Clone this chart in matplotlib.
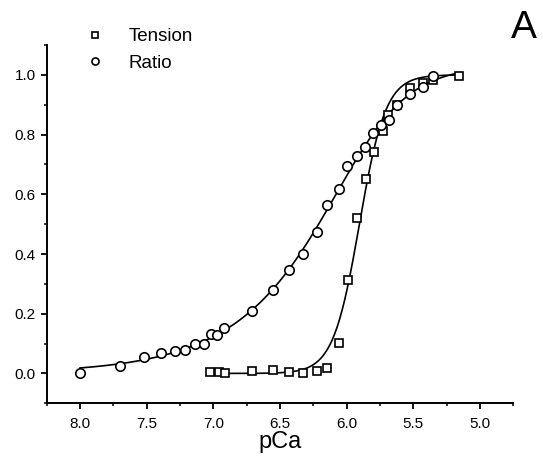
import numpy as np
import matplotlib
matplotlib.use("Agg")
import matplotlib.pyplot as plt
from matplotlib.ticker import MultipleLocator, FormatStrFormatter

plt.rcParams['font.family'] = ['Liberation Sans', 'DejaVu Sans']

# ---- data ----
ratio_pca = [8.00, 7.70, 7.52, 7.39, 7.29, 7.21, 7.14, 7.07, 7.02, 6.97, 6.92,
             6.71, 6.55, 6.43, 6.325, 6.22, 6.145, 6.06, 6.00, 5.925, 5.86,
             5.80, 5.74, 5.68, 5.625, 5.525, 5.43, 5.35]
ratio_val = [0.000, 0.024, 0.055, 0.070, 0.075, 0.080, 0.100, 0.100, 0.132, 0.130, 0.152,
             0.210, 0.278, 0.346, 0.400, 0.474, 0.564, 0.619, 0.694, 0.727, 0.758,
             0.805, 0.833, 0.848, 0.900, 0.935, 0.958, 0.995]

tension_pca = [7.025, 6.96, 6.91, 6.71, 6.55, 6.43, 6.325, 6.225, 6.145, 6.06,
               5.99, 5.925, 5.855, 5.795, 5.73, 5.69, 5.625, 5.525, 5.43, 5.35, 5.16]
tension_val = [0.005, 0.005, 0.002, 0.009, 0.011, 0.005, 0.000, 0.008, 0.017, 0.103,
               0.313, 0.522, 0.652, 0.742, 0.811, 0.865, 0.900, 0.955, 0.972, 0.983, 0.997]

legend_labels = ['Tension', 'Ratio']
x_ticks = [8.0, 7.5, 7.0, 6.5, 6.0, 5.5, 5.0]
y_ticks = [0.0, 0.2, 0.4, 0.6, 0.8, 1.0]


def model(x, p):
    a, n, p50, m = p
    return a * (1.0 + 10.0 ** (n * (x - p50))) ** (-m)


def fit_curve(x, y, p0, fixed=()):
    """Damped Gauss-Newton least-squares fit of a (generalised) Hill curve."""
    x = np.asarray(x, float)
    y = np.asarray(y, float)
    p = np.array(p0, float)
    free = [i for i in range(len(p)) if i not in fixed]
    lam = 1e-2
    cost = np.sum((model(x, p) - y) ** 2)
    for _ in range(400):
        r = model(x, p) - y
        J = np.zeros((len(x), len(free)))
        for k, i in enumerate(free):
            dp = np.zeros_like(p)
            dp[i] = 1e-6 * max(1.0, abs(p[i]))
            J[:, k] = (model(x, p + dp) - model(x, p - dp)) / (2 * dp[i])
        Hm = J.T @ J
        g = J.T @ r
        step = np.linalg.solve(Hm + lam * np.diag(np.diag(Hm) + 1e-9), -g)
        pn = p.copy()
        pn[free] += step
        pn[1] = max(pn[1], 0.1)
        pn[3] = min(max(pn[3], 0.05), 5.0)
        cn = np.sum((model(x, pn) - y) ** 2)
        if cn < cost:
            p, cost, lam = pn, cn, lam * 0.5
        else:
            lam *= 4.0
    return p


W, H = 543, 468
fig = plt.figure(figsize=(W / 100, H / 100), dpi=100)
ax = fig.add_axes([46.7 / W, 1 - 403.3 / H, (513.3 - 46.7) / W, (403.3 - 45) / H])

# fitted curves
pr = fit_curve(ratio_pca, ratio_val, [1.0, 2.0, 6.0, 0.5])
pt = fit_curve(tension_pca, tension_val, [1.0, 4.0, 5.93, 1.0], fixed=(0, 3))
xr = np.linspace(max(ratio_pca), min(tension_pca), 300)
xt = np.linspace(max(tension_pca), min(tension_pca), 300)
ax.plot(xr, model(xr, pr), color='black', lw=1.2, zorder=2)
ax.plot(xt, model(xt, pt), color='black', lw=1.2, zorder=2)

ax.plot(tension_pca, tension_val, linestyle='none', marker='s', markersize=6.3,
        markerfacecolor='white', markeredgecolor='black', markeredgewidth=1.2,
        label=legend_labels[0], zorder=3)
ax.plot(ratio_pca, ratio_val, linestyle='none', marker='o', markersize=6.8,
        markerfacecolor='white', markeredgecolor='black', markeredgewidth=1.2,
        label=legend_labels[1], zorder=3)

ax.set_xlim(8.25, 4.75)
ax.set_ylim(-0.1, 1.1)
ax.set_xticks(x_ticks)
ax.set_yticks(y_ticks)
ax.xaxis.set_minor_locator(MultipleLocator(0.25))
ax.yaxis.set_minor_locator(MultipleLocator(0.1))
ax.xaxis.set_major_formatter(FormatStrFormatter('%.1f'))
ax.yaxis.set_major_formatter(FormatStrFormatter('%.1f'))

for s in ['top', 'right']:
    ax.spines[s].set_visible(False)
for s in ['left', 'bottom']:
    ax.spines[s].set_linewidth(1.4)

ax.tick_params(axis='both', which='major', direction='out', length=4, width=1.3,
               labelsize=11)
ax.tick_params(axis='both', which='minor', direction='out', length=2.5, width=1.1)
ax.tick_params(axis='x', which='major', pad=6)
ax.tick_params(axis='y', which='major', pad=4)

ax.set_xlabel('pCa', fontsize=17, labelpad=0)

leg = ax.legend(loc='upper left', bbox_to_anchor=(86 / W, 1 - 28 / H),
                bbox_transform=fig.transFigure, frameon=False, fontsize=13.5,
                handlelength=1.0, handletextpad=1.25, labelspacing=0.5,
                markerscale=0.75, borderaxespad=0, borderpad=0)

fig.text(511 / W, 1 - 10 / H, 'A', fontsize=28, ha='left', va='top')

fig.savefig('out.png', dpi=100)
